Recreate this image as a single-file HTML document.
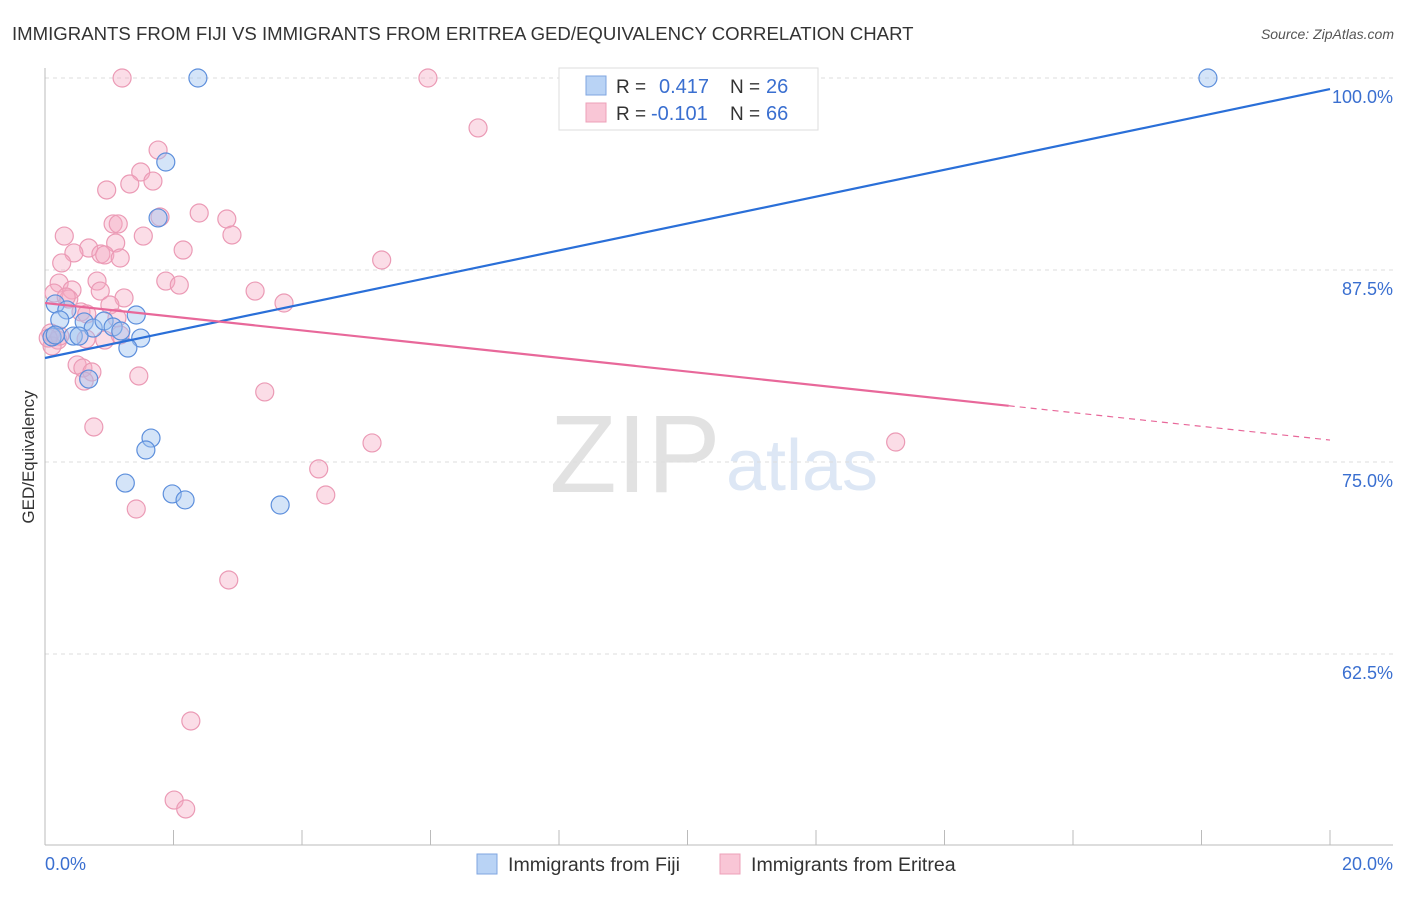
<!DOCTYPE html>
<html><head><meta charset="utf-8"><style>
body{margin:0;background:#fff;font-family:"Liberation Sans",sans-serif;}
svg text{font-family:"Liberation Sans",sans-serif;}
</style></head><body>
<svg width="1406" height="892" xmlns="http://www.w3.org/2000/svg">
<text x="12" y="40" font-size="18.6" fill="#333">IMMIGRANTS FROM FIJI VS IMMIGRANTS FROM ERITREA GED/EQUIVALENCY CORRELATION CHART</text>
<text x="1394" y="39" font-size="14" fill="#555" font-style="italic" text-anchor="end">Source: ZipAtlas.com</text>
<text x="635" y="492" font-size="110" fill="#e2e2e2" font-family="Liberation Serif" text-anchor="middle">ZIP</text>
<text x="802" y="490" font-size="72" fill="#dde7f5" text-anchor="middle">atlas</text>
<g id="grid"></g>
<g id="axes"></g>
<text transform="translate(34,457) rotate(-90)" font-size="17" fill="#333" text-anchor="middle">GED/Equivalency</text>
<text x="45" y="870" font-size="18" fill="#3a6fd0">0.0%</text>
<text x="1393" y="870" font-size="18" fill="#3a6fd0" text-anchor="end">20.0%</text>
<g id="points"></g>
<g id="lines"></g>
<g>
<rect x="559" y="68" width="259" height="62" fill="#fff" stroke="#ddd"/>
<rect x="586" y="76" width="20" height="19" fill="#b9d3f5" stroke="#7fa6e0"/>
<rect x="586" y="103" width="20" height="19" fill="#f9c6d6" stroke="#eda0b8"/>
<text x="616" y="93" font-size="19" fill="#333">R =</text>
<text x="659" y="93" font-size="20" fill="#3a6fd0">0.417</text>
<text x="730" y="93" font-size="19" fill="#333">N =</text>
<text x="766" y="93" font-size="20" fill="#3a6fd0">26</text>
<text x="616" y="120" font-size="19" fill="#333">R =</text>
<text x="651" y="120" font-size="20" fill="#3a6fd0">-0.101</text>
<text x="730" y="120" font-size="19" fill="#333">N =</text>
<text x="766" y="120" font-size="20" fill="#3a6fd0">66</text>
</g>
<g>
<rect x="477" y="854" width="20" height="20" fill="#b9d3f5" stroke="#7fa6e0"/>
<text x="508" y="871" font-size="19.6" fill="#333">Immigrants from Fiji</text>
<rect x="720" y="854" width="20" height="20" fill="#f9c6d6" stroke="#eda0b8"/>
<text x="751" y="871" font-size="19.6" fill="#333">Immigrants from Eritrea</text>
</g>
</svg>
<script>
const yTicks=[100,87.5,75,62.5];
const yTickLabels=["100.0%","87.5%","75.0%","62.5%"];
const fijiX=[2.38,18.10,1.88,1.76,0.16,0.34,0.23,0.61,0.75,0.92,1.06,1.18,1.42,0.44,0.53,1.49,1.29,0.11,0.68,1.65,1.57,1.25,1.98,2.18,3.66,0.16];
const fijiY=[100,100,94.53,90.89,85.29,84.90,84.25,84.12,83.72,84.18,83.79,83.53,84.57,83.20,83.20,83.07,82.42,83.14,80.40,76.56,75.78,73.63,72.92,72.53,72.20,83.27];
const eriX=[1.20,5.96,6.74,1.76,1.49,1.68,1.32,0.96,2.40,1.79,2.83,1.06,1.14,2.91,0.30,1.53,1.10,0.68,2.15,0.45,0.87,0.93,1.17,0.26,5.24,0.81,1.88,2.09,0.22,3.27,0.86,0.14,0.42,0.37,1.23,3.72,1.01,0.56,0.65,0.09,0.20,0.93,0.11,0.50,0.59,0.73,1.46,0.61,3.42,0.76,5.09,13.24,4.26,4.37,1.42,2.86,2.27,2.01,2.19,0.23,1.12,0.64,0.05,0.33,1.17];
const eriY=[100,100,96.75,95.31,93.88,93.29,93.10,92.71,91.21,90.95,90.82,90.50,90.50,89.78,89.71,89.71,89.26,88.93,88.80,88.61,88.54,88.48,88.28,87.96,88.15,86.78,86.78,86.52,86.65,86.13,86.13,86.00,86.20,85.61,85.68,85.35,85.22,84.77,84.64,83.40,82.94,82.94,82.55,81.32,81.12,80.86,80.60,80.27,79.56,77.28,76.24,76.30,74.55,72.85,71.94,67.32,58.14,52.99,52.41,83.20,84.38,83.01,83.07,85.74,83.27];
const fijiTrend=[81.77,99.28];
const eriTrend=[85.35,76.43];
const eriSolidEnd=15.0;
const NS="http://www.w3.org/2000/svg";
const sx=v=>45+v/20*1285;
const sy=v=>78+(100-v)/12.5*192;
function mk(t,a,p){const e=document.createElementNS(NS,t);for(const k in a)e.setAttribute(k,a[k]);p.appendChild(e);return e;}
const grid=document.getElementById('grid'),axes=document.getElementById('axes');
yTicks.forEach((t,i)=>{
 const g=mk('line',{x1:45,x2:1393,y1:sy(t),y2:sy(t),stroke:'#ddd','stroke-dasharray':'4,4'},grid);
 
 
 const tx=mk('text',{x:1393,y:sy(t)+25,'font-size':18,fill:'#3a6fd0','text-anchor':'end'},grid);
 tx.textContent=yTickLabels[i];
 
 
});
const ax=mk('line',{x1:45,x2:45,y1:68,y2:845,stroke:'#bbb'},axes);


const bx=mk('line',{x1:45,x2:1393,y1:845,y2:845,stroke:'#bbb'},axes);


for(let i=1;i<=10;i++){const t=mk('line',{x1:sx(i*2),x2:sx(i*2),y1:830,y2:845,stroke:'#bbb'},axes);
 
 }
const pts=document.getElementById('points');
eriX.forEach((x,i)=>{const c=mk('circle',{cx:sx(x),cy:sy(eriY[i]),r:9,fill:'rgba(246,170,195,0.4)',stroke:'#eb9ab5','stroke-width':1.2},pts);
 
 });
fijiX.forEach((x,i)=>{const c=mk('circle',{cx:sx(x),cy:sy(fijiY[i]),r:9,fill:'rgba(160,195,240,0.45)',stroke:'#5d8fdc','stroke-width':1.2},pts);
 
 });
const ln=document.getElementById('lines');
const f=mk('line',{x1:sx(0),y1:sy(fijiTrend[0]),x2:sx(20),y2:sy(fijiTrend[1]),stroke:'#2a6fd8','stroke-width':2.2},ln);


const ey=x=>eriTrend[0]+(eriTrend[1]-eriTrend[0])*x/20;
const e1=mk('line',{x1:sx(0),y1:sy(eriTrend[0]),x2:sx(eriSolidEnd),y2:sy(ey(eriSolidEnd)),stroke:'#e8689a','stroke-width':2.2},ln);


const e2=mk('line',{x1:sx(eriSolidEnd),y1:sy(ey(eriSolidEnd)),x2:sx(20),y2:sy(eriTrend[1]),stroke:'#e8689a','stroke-width':1.2,'stroke-dasharray':'6,5'},ln);


</script>
</body></html>
